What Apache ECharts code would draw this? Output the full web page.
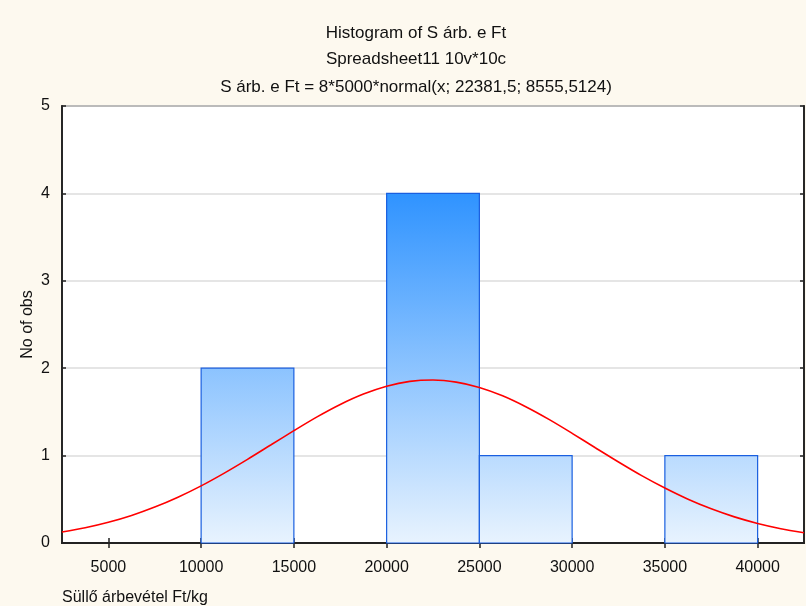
<!DOCTYPE html>
<html>
<head>
<meta charset="utf-8">
<script src="https://cdn.jsdelivr.net/npm/echarts@6/dist/echarts.min.js"></script>
<style>
  html, body { margin: 0; padding: 0; background: #fdf9ef; }
  #chart { width: 806px; height: 606px; }
</style>
</head>
<body>
<div id="chart"></div>
<script>
// histogram bins: [from, to, count]
const binStart = [10000, 15000, 20000, 25000, 30000, 35000];
const binEnd = [15000, 20000, 25000, 30000, 35000, 40000];
const binCount = [2, 0, 4, 1, 0, 1];

// fitted normal curve
const curveX = [2500, 3750, 5000, 6250, 7500, 8750, 10000, 11250, 12500, 13750,
  15000, 16250, 17500, 18750, 20000, 21250, 22500, 23750, 25000, 26250,
  27500, 28750, 30000, 31250, 32500, 33750, 35000, 36250, 37500, 38750,
  40000, 41250, 42500];
const curveY = [0.125, 0.174, 0.237, 0.315, 0.411, 0.524, 0.654, 0.800, 0.957, 1.121,
  1.285, 1.443, 1.585, 1.704, 1.794, 1.849, 1.865, 1.841, 1.780, 1.684,
  1.559, 1.414, 1.255, 1.090, 0.927, 0.771, 0.629, 0.501, 0.391, 0.299,
  0.224, 0.164, 0.117];

const xTicks = [5000, 10000, 15000, 20000, 25000, 30000, 35000, 40000];

const titleLines = [
  'Histogram of S árb. e Ft',
  'Spreadsheet11 10v*10c',
  'S árb. e Ft = 8*5000*normal(x; 22381,5; 8555,5124)'
];

const font = '"Liberation Sans", Arial, sans-serif';

let myChart = echarts.init(document.getElementById('chart'));

// gradient over the plot area, dark at the top of the tallest bar
const barFill = new echarts.graphic.LinearGradient(0, 193, 0, 543, [
  { offset: 0, color: '#2f93ff' },
  { offset: 1, color: '#e8f3fe' }
], true);

const bins = binStart.map((s, i) => [s, binEnd[i], binCount[i]]);

myChart.setOption({
  backgroundColor: '#fdf9ef',
  animation: false,
  title: titleLines.map((t, i) => ({
    text: t,
    left: 411,
    textAlign: 'center',
    top: [20, 46, 74][i],
    textStyle: { fontFamily: font, fontSize: 17, fontWeight: 'normal', color: '#111' }
  })),
  grid: {
    left: 62, right: 2, top: 106, bottom: 63,
    show: true, backgroundColor: '#ffffff', borderColor: '#222', borderWidth: 1.5
  },
  xAxis: [{
    type: 'value',
    min: 2500, max: 42500,
    position: 'bottom',
    axisLine: { show: true, lineStyle: { color: '#222', width: 1.8 } },
    axisTick: { show: true, inside: true, length: 5, customValues: xTicks, lineStyle: { color: '#222', width: 1.5 } },
    axisLabel: { customValues: xTicks, margin: 17, fontFamily: font, fontSize: 16, color: '#111', formatter: v => String(v) },
    splitLine: { show: false },
    name: 'Süllő árbevétel Ft/kg',
    nameLocation: 'start',
    nameGap: 0,
    nameTextStyle: { fontFamily: font, fontSize: 16, color: '#111', align: 'left', verticalAlign: 'top', padding: [47, 0, 0, 0] }
  }, {
    type: 'value',
    min: 2500, max: 42500,
    position: 'top',
    axisLine: { show: true, lineStyle: { color: '#222', width: 1.8 } },
    axisTick: { show: true, inside: true, length: 5, customValues: xTicks, lineStyle: { color: '#222', width: 1.5 } },
    axisLabel: { show: false },
    splitLine: { show: false }
  }],
  yAxis: [{
    type: 'value',
    min: 0, max: 5, interval: 1,
    position: 'left',
    axisLine: { show: true, lineStyle: { color: '#222', width: 1.8 } },
    axisTick: { show: true, inside: true, length: 4, lineStyle: { color: '#222', width: 1.5 } },
    axisLabel: { margin: 12, fontFamily: font, fontSize: 16, color: '#111' },
    splitLine: { show: true, lineStyle: { color: '#dddddd', width: 1.5 } },
    name: 'No of obs',
    nameLocation: 'middle',
    nameGap: 26,
    nameMoveOverlap: false,
    nameRotate: 90,
    nameTextStyle: { fontFamily: font, fontSize: 16, color: '#111' }
  }, {
    type: 'value',
    min: 0, max: 5, interval: 1,
    position: 'right',
    axisLine: { show: true, lineStyle: { color: '#222', width: 1.8 } },
    axisTick: { show: true, inside: true, length: 4, lineStyle: { color: '#222', width: 1.5 } },
    axisLabel: { show: false },
    splitLine: { show: false }
  }],
  series: [
    {
      type: 'custom',
      xAxisIndex: 0,
      yAxisIndex: 0,
      data: bins,
      renderItem: function (params, api) {
        if (api.value(2) <= 0) return null;
        const p0 = api.coord([api.value(0), api.value(2)]);
        const p1 = api.coord([api.value(1), 0]);
        return {
          type: 'rect',
          shape: { x: p0[0], y: p0[1], width: p1[0] - p0[0], height: p1[1] - p0[1] },
          style: { fill: barFill, stroke: '#1a5fe0', lineWidth: 1.2 }
        };
      },
      z: 2
    },
    {
      type: 'line',
      xAxisIndex: 0,
      yAxisIndex: 0,
      data: curveX.map((x, i) => [x, curveY[i]]),
      smooth: 0.3,
      showSymbol: false,
      lineStyle: { color: '#ff0000', width: 1.6 },
      z: 3
    }
  ]
});

//自适应大小
window.onresize = function () {
  myChart.resize();
};
</script>
</body>
</html>
